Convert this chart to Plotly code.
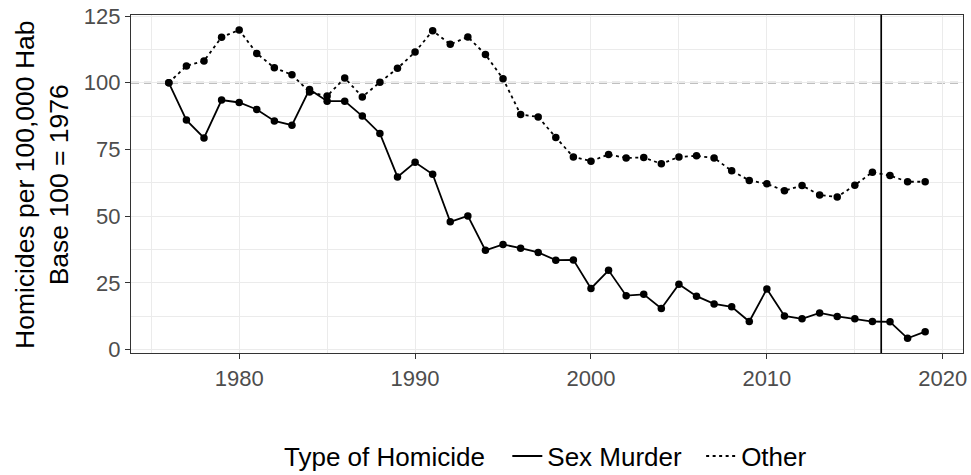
import plotly.graph_objects as go

years = list(range(1976, 2020))
sex_murder = [100, 86.0, 79.3, 93.5, 92.6, 90.0, 85.7, 84.1, 97.5, 93.1,
              93.1, 87.5, 81.0, 64.7, 70.2, 65.7, 47.9, 50.1, 37.2, 39.4,
              38.0, 36.4, 33.5, 33.6, 22.9, 29.7, 20.2, 20.7, 15.4, 24.5,
              20.0, 17.1, 16.0, 10.5, 22.7, 12.6, 11.5, 13.7, 12.4, 11.5,
              10.5, 10.4, 4.2, 6.7]
other = [100, 106.3, 108.2, 117.1, 119.8, 111.0, 105.6, 103.0, 96.5, 95.0,
         101.8, 94.7, 100.2, 105.4, 111.5, 119.5, 114.4, 117.2, 110.6, 101.5,
         88.1, 87.2, 79.5, 72.2, 70.6, 73.1, 71.8, 72.0, 69.6, 72.2,
         72.6, 71.8, 67.0, 63.4, 62.1, 59.5, 61.5, 57.9, 57.2, 61.6,
         66.5, 65.2, 62.9, 62.9]
x_ticks = [1980, 1990, 2000, 2010, 2020]
y_ticks = [0, 25, 50, 75, 100, 125]
base_value = 100
cutoff_year = 2016.5

FONT = "Liberation Sans, Arial, sans-serif"

fig = go.Figure()
fig.add_trace(go.Scatter(x=years, y=sex_murder, mode="lines", name="Sex Murder  ",
                         line=dict(color="black", width=1.8)))
fig.add_trace(go.Scatter(x=years, y=other, mode="lines", name="Other",
                         line=dict(color="black", width=1.8, dash="3px,3.5px")))
fig.add_trace(go.Scatter(x=years, y=sex_murder, mode="markers", showlegend=False,
                         marker=dict(color="black", size=7.5)))
fig.add_trace(go.Scatter(x=years, y=other, mode="markers", showlegend=False,
                         marker=dict(color="black", size=7.5)))

fig.add_hline(y=base_value, line=dict(color="#ABABAB", width=1.8, dash="8px,5px"), layer="below")
fig.add_vline(x=cutoff_year, line=dict(color="black", width=1.7), layer="above")

axis_common = dict(
    showline=True, mirror=True, linecolor="#333333", linewidth=1.2,
    ticks="outside", ticklen=5, tickwidth=1.2, tickcolor="#333333",
    gridcolor="#EBEBEB", gridwidth=1.4, zeroline=False, automargin=False,
    tickfont=dict(family=FONT, size=22, color="#4D4D4D"),
)

fig.update_xaxes(range=[1973.85, 2021.15], tickvals=x_ticks,
                 minor=dict(dtick=5, tick0=1975, showgrid=True, gridcolor="#EBEBEB", gridwidth=0.8, ticks=""),
                 **axis_common)
fig.update_yaxes(range=[-1.3, 125.4], tickvals=y_ticks,
                 minor=dict(dtick=12.5, tick0=0, showgrid=True, gridcolor="#EBEBEB", gridwidth=0.8, ticks=""),
                 **axis_common)

fig.add_annotation(text="Homicides per 100,000 Hab<br>Base 100 = 1976",
                   xref="paper", yref="paper", x=-0.107, y=0.5,
                   xanchor="center", yanchor="middle", textangle=-90, showarrow=False,
                   font=dict(family=FONT, size=26.5, color="black"))

fig.update_layout(
    width=971, height=475,
    margin=dict(l=131, r=8, t=15, b=122, autoexpand=False),
    plot_bgcolor="white", paper_bgcolor="white",
    font=dict(family=FONT, color="black"),
    legend=dict(orientation="h", x=0.5, xanchor="center", y=-0.305, yanchor="middle",
                title=dict(text="Type of Homicide  ", side="left",
                           font=dict(family=FONT, size=26, color="black")),
                font=dict(family=FONT, size=26, color="black"),
                bgcolor="rgba(0,0,0,0)"),
)

fig.write_html("out.html", config={"displayModeBar": False},
               post_script="document.body.style.margin='0';document.body.style.overflow='hidden';")
